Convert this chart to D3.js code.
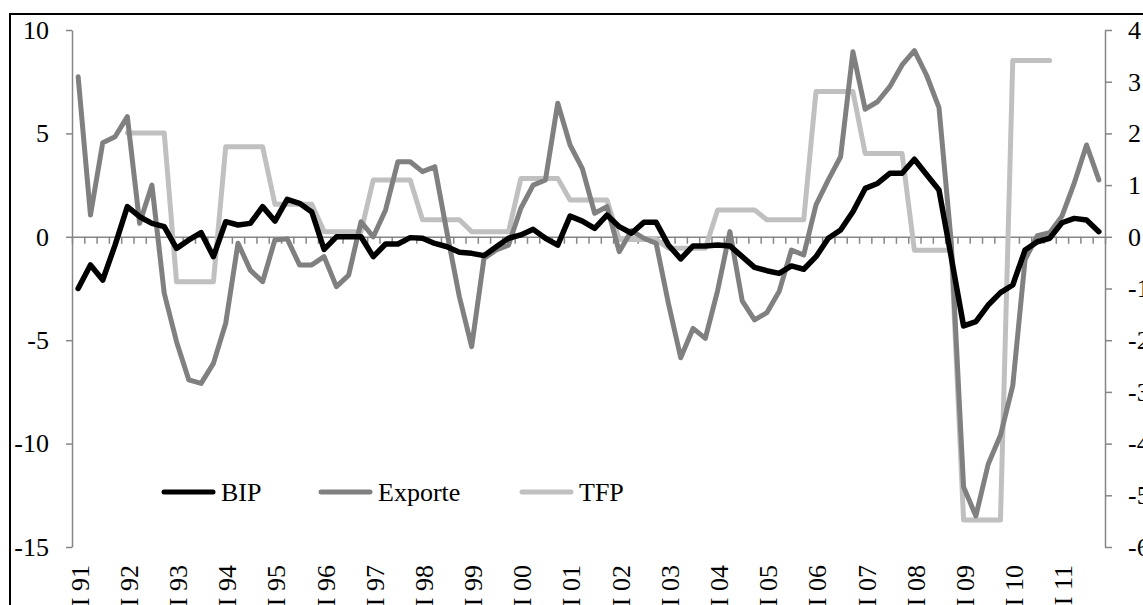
<!DOCTYPE html>
<html>
<head>
<meta charset="utf-8">
<script src="https://cdn.jsdelivr.net/npm/d3@7"></script>
<style>
  body { margin: 0; background: #fff; }
  svg text { font-family: "Liberation Serif", "Times New Roman", serif; fill: #000; }
</style>
</head>
<body>
<div id="chart"></div>
<script>
// year labels, one per year (first quarter)
const years = ['91', '92', '93', '94', '95', '96', '97', '98', '99', '00',
  '01', '02', '03', '04', '05', '06', '07', '08', '09', '10', '11'];

// quarterly values, I 91 .. IV 11 (left axis)
const bip = [
  -2.5, -1.36, -2.09, -0.4, 1.46, 0.97, 0.65, 0.49,
  -0.56, -0.15, 0.2, -0.96, 0.73, 0.57, 0.65, 1.46,
  0.76, 1.81, 1.62, 1.2, -0.61, 0.0, 0.0, 0.0,
  -0.96, -0.35, -0.35, -0.04, -0.07, -0.32, -0.48, -0.75,
  -0.8, -0.91, -0.48, -0.07, 0.09, 0.36, -0.07, -0.4,
  1.0, 0.76, 0.41, 1.05, 0.49, 0.17, 0.7, 0.7,
  -0.4, -1.07, -0.44, -0.44, -0.4, -0.44, -0.96, -1.48,
  -1.64, -1.77, -1.41, -1.57, -0.96, -0.07, 0.33, 1.21,
  2.34, 2.58, 3.07, 3.07, 3.75, 3.0, 2.26, -1.0,
  -4.31, -4.1, -3.3, -2.7, -2.33, -0.64, -0.24, -0.07,
  0.68, 0.89, 0.81, 0.25
];

const exporte = [
  7.74, 1.05, 4.55, 4.84, 5.81, 0.65, 2.5, -2.73,
  -5.07, -6.92, -7.09, -6.12, -4.18, -0.31, -1.61, -2.17,
  -0.15, -0.1, -1.36, -1.36, -0.96, -2.41, -1.85, 0.73,
  0.0, 1.3, 3.63, 3.63, 3.15, 3.39, 0.17, -2.9,
  -5.31, -1.04, -0.64, -0.4, 1.38, 2.5, 2.75, 6.46,
  4.44, 3.3, 1.14, 1.46, -0.72, 0.3, -0.07, -0.31,
  -3.22, -5.85, -4.43, -4.91, -2.6, 0.25, -3.1, -4.02,
  -3.67, -2.65, -0.64, -0.88, 1.54, 2.75, 3.87, 8.95,
  6.17, 6.53, 7.26, 8.31, 9.0, 7.8, 6.25, -0.3,
  -12.1, -13.5, -11.0, -9.6, -7.2, -1.1, 0.05, 0.2,
  1.0, 2.6, 4.44, 2.75
];

// TFP, right axis (annual value shown in each quarter)
const tfp = [
  null, null, null, null,
  2.01, 2.01, 2.01, 2.01,
  -0.87, -0.87, -0.87, -0.87,
  1.74, 1.74, 1.74, 1.74,
  0.63, 0.63, 0.63, 0.63,
  0.1, 0.1, 0.1, 0.1,
  1.1, 1.1, 1.1, 1.1,
  0.33, 0.33, 0.33, 0.33,
  0.1, 0.1, 0.1, 0.1,
  1.13, 1.13, 1.13, 1.13,
  0.71, 0.71, 0.71, 0.71,
  -0.05, -0.05, -0.05, -0.05,
  -0.22, -0.22, -0.22, -0.22,
  0.52, 0.52, 0.52, 0.52,
  0.33, 0.33, 0.33, 0.33,
  2.81, 2.81, 2.81, 2.81,
  1.61, 1.61, 1.61, 1.61,
  -0.26, -0.26, -0.26, -0.26,
  -5.48, -5.48, -5.48, -5.48,
  3.41, 3.41, 3.41, 3.41,
  null, null, null, null
];

const leftTicks = [-15, -10, -5, 0, 5, 10];
const rightTicks = [-6, -5, -4, -3, -2, -1, 0, 1, 2, 3, 4];

const width = 1143, height = 605;
const plot = { left: 72, right: 1105, top: 30, bottom: 547 };
const fontSize = 26;
const axisColor = '#868686';

const svg = d3.select('#chart').append('svg')
    .attr('width', width)
    .attr('height', height);

// chart frame (runs off the right and bottom edge)
svg.append('rect')
    .attr('x', 10).attr('y', 14)
    .attr('width', 1160).attr('height', 640)
    .attr('fill', 'none')
    .attr('stroke', '#000')
    .attr('stroke-width', 2);

const x = d3.scaleLinear().domain([-0.5, bip.length - 0.5]).range([plot.left, plot.right]);
const yL = d3.scaleLinear().domain([-15, 10]).range([plot.bottom, plot.top]);
const yR = d3.scaleLinear().domain([-6, 4]).range([plot.bottom, plot.top]);

function styleAxis(g) {
  g.select('.domain').attr('stroke', axisColor).attr('stroke-width', 1.5);
  g.selectAll('.tick line').attr('stroke', axisColor).attr('stroke-width', 1.5);
  g.selectAll('text').attr('font-size', fontSize).attr('font-family', null).attr('fill', '#000');
}

// left axis
svg.append('g')
    .attr('transform', `translate(${plot.left},0)`)
    .call(d3.axisLeft(yL).tickValues(leftTicks).tickFormat(d => String(d))
      .tickSize(6).tickSizeOuter(0).tickPadding(17))
    .call(styleAxis);

// right axis
svg.append('g')
    .attr('transform', `translate(${plot.right},0)`)
    .call(d3.axisRight(yR).tickValues(rightTicks).tickFormat(d => String(d))
      .tickSize(7).tickSizeOuter(0).tickPadding(16))
    .call(styleAxis);

// category axis at zero, ticks between quarters
const boundaries = d3.range(0, bip.length + 1).map(i => i - 0.5);
svg.append('g')
    .attr('transform', `translate(0,${yL(0)})`)
    .call(d3.axisBottom(x).tickValues(boundaries).tickFormat('')
      .tickSize(7).tickSizeOuter(0))
    .call(styleAxis);

// year labels, rotated
svg.append('g')
  .selectAll('text')
  .data(years)
  .join('text')
    .attr('transform', (d, k) => `translate(${x(k * 4)},565) rotate(-90)`)
    .attr('text-anchor', 'end')
    .attr('dy', '0.4em')
    .attr('font-size', fontSize)
    .text(d => 'I ' + d);

// series
const lineL = d3.line().x((d, i) => x(i)).y(d => yL(d));
const lineR = d3.line().defined(d => d != null).x((d, i) => x(i)).y(d => yR(d));

svg.append('path')
    .datum(tfp)
    .attr('d', lineR)
    .attr('fill', 'none')
    .attr('stroke', '#c0c0c0')
    .attr('stroke-width', 5)
    .attr('stroke-linejoin', 'round')
    .attr('stroke-linecap', 'round');

svg.append('path')
    .datum(exporte)
    .attr('d', lineL)
    .attr('fill', 'none')
    .attr('stroke', '#808080')
    .attr('stroke-width', 5)
    .attr('stroke-linejoin', 'round')
    .attr('stroke-linecap', 'round');

svg.append('path')
    .datum(bip)
    .attr('d', lineL)
    .attr('fill', 'none')
    .attr('stroke', '#000')
    .attr('stroke-width', 5.5)
    .attr('stroke-linejoin', 'round')
    .attr('stroke-linecap', 'round');

// legend
const legend = [
  { name: 'BIP', color: '#000', x: 164 },
  { name: 'Exporte', color: '#808080', x: 321 },
  { name: 'TFP', color: '#c0c0c0', x: 522 }
];
const lg = svg.append('g').selectAll('g').data(legend).join('g')
    .attr('transform', d => `translate(${d.x},492)`);
lg.append('line')
    .attr('x1', 0).attr('x2', 49)
    .attr('stroke', d => d.color)
    .attr('stroke-width', 5)
    .attr('stroke-linecap', 'round');
lg.append('text')
    .attr('x', 57)
    .attr('dy', '0.33em')
    .attr('font-size', fontSize)
    .text(d => d.name);
</script>
</body>
</html>
